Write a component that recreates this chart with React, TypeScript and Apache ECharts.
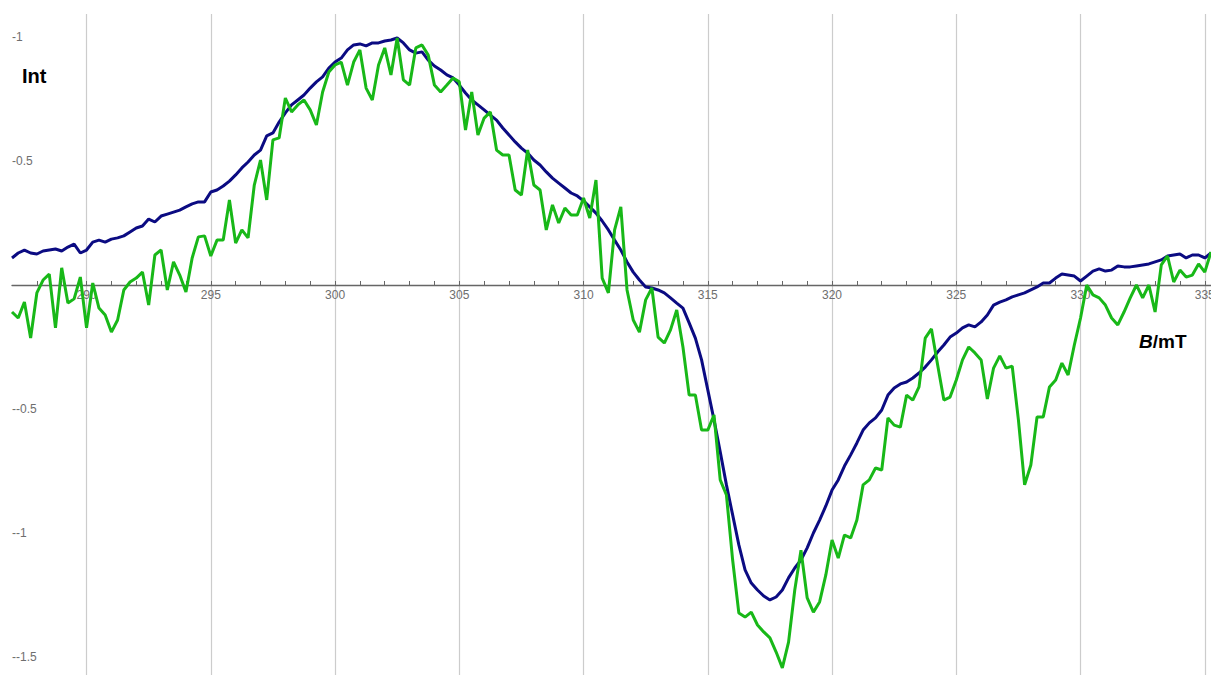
import React, { useEffect, useRef } from "react";
import * as echarts from "echarts";

// Magnetic field sampling (mT)
const B_START = 287;
const B_STEP = 0.25;
const fieldTickLabels = [290, 295, 300, 305, 310, 315, 320, 325, 330, 335];
const intensityTickLabels = [1, 0.5, -0.5, -1, -1.5];

// Simulated spectrum (navy)
const simulated = [
  0.109, 0.129, 0.141, 0.129, 0.125, 0.137, 0.141, 0.145, 0.137, 0.153,
  0.165, 0.129, 0.141, 0.173, 0.181, 0.173, 0.185, 0.19, 0.198, 0.214,
  0.23, 0.238, 0.266, 0.254, 0.278, 0.286, 0.294, 0.302, 0.315, 0.327,
  0.335, 0.335, 0.375, 0.383, 0.399, 0.419, 0.444, 0.472, 0.496, 0.524,
  0.544, 0.601, 0.613, 0.657, 0.694, 0.726, 0.746, 0.766, 0.794, 0.819,
  0.839, 0.875, 0.899, 0.915, 0.948, 0.968, 0.972, 0.964, 0.976, 0.976,
  0.984, 0.988, 0.996, 0.976, 0.948, 0.935, 0.94, 0.907, 0.883, 0.867,
  0.847, 0.835, 0.806, 0.774, 0.746, 0.726, 0.706, 0.685, 0.665, 0.633,
  0.605, 0.577, 0.552, 0.532, 0.504, 0.484, 0.456, 0.431, 0.411, 0.391,
  0.371, 0.359, 0.339, 0.315, 0.29, 0.258, 0.222, 0.181, 0.141, 0.093,
  0.052, 0.02, -0.008, -0.012, -0.02, -0.032, -0.052, -0.073, -0.093, -0.153,
  -0.214, -0.302, -0.423, -0.544, -0.673, -0.806, -0.927, -1.048, -1.149, -1.202,
  -1.23, -1.254, -1.27, -1.258, -1.23, -1.181, -1.141, -1.109, -1.06, -1.0,
  -0.948, -0.891, -0.827, -0.786, -0.73, -0.685, -0.637, -0.585, -0.556, -0.536,
  -0.504, -0.444, -0.415, -0.399, -0.391, -0.375, -0.355, -0.331, -0.302, -0.27,
  -0.242, -0.21, -0.194, -0.173, -0.161, -0.169, -0.149, -0.121, -0.081, -0.069,
  -0.06, -0.048, -0.04, -0.032, -0.02, -0.008, 0.008, 0.008, 0.028, 0.044,
  0.04, 0.036, 0.016, 0.036, 0.056, 0.065, 0.056, 0.06, 0.077, 0.073,
  0.073, 0.077, 0.081, 0.085, 0.093, 0.101, 0.117, 0.121, 0.125, 0.109,
  0.121, 0.121, 0.109, 0.129,
];

// Experimental spectrum (green)
const experimental = [
  -0.109, -0.133, -0.069, -0.214, -0.032, 0.02, 0.044, -0.173, 0.069, -0.073,
  -0.056, 0.032, -0.173, 0.008, -0.093, -0.121, -0.19, -0.141, -0.02, 0.012,
  0.028, 0.052, -0.081, 0.121, 0.141, -0.02, 0.093, 0.04, -0.028, 0.109,
  0.194, 0.198, 0.117, 0.181, 0.181, 0.343, 0.169, 0.222, 0.19, 0.403,
  0.504, 0.343, 0.585, 0.593, 0.754, 0.698, 0.726, 0.746, 0.706, 0.645,
  0.778, 0.859, 0.887, 0.899, 0.806, 0.899, 0.948, 0.794, 0.746, 0.887,
  0.956, 0.847, 0.996, 0.827, 0.806, 0.956, 0.968, 0.927, 0.806, 0.778,
  0.806, 0.835, 0.819, 0.625, 0.778, 0.605, 0.673, 0.698, 0.544, 0.524,
  0.524, 0.383, 0.363, 0.544, 0.403, 0.383, 0.222, 0.323, 0.25, 0.31,
  0.282, 0.282, 0.351, 0.27, 0.423, 0.028, -0.032, 0.222, 0.315, -0.02,
  -0.141, -0.19, -0.06, -0.012, -0.21, -0.234, -0.181, -0.101, -0.25, -0.444,
  -0.444, -0.585, -0.585, -0.524, -0.786, -0.847, -1.109, -1.323, -1.339, -1.319,
  -1.371, -1.399, -1.423, -1.48, -1.544, -1.44, -1.23, -1.069, -1.262, -1.319,
  -1.278, -1.169, -1.028, -1.101, -1.008, -1.02, -0.948, -0.806, -0.786, -0.738,
  -0.746, -0.536, -0.565, -0.573, -0.444, -0.464, -0.411, -0.214, -0.177, -0.323,
  -0.464, -0.452, -0.383, -0.302, -0.25, -0.274, -0.302, -0.46, -0.335, -0.286,
  -0.335, -0.327, -0.544, -0.806, -0.726, -0.532, -0.532, -0.411, -0.383, -0.315,
  -0.363, -0.242, -0.133, 0.0, -0.04, -0.052, -0.081, -0.133, -0.161, -0.109,
  -0.052, 0.0, -0.052, 0.0, -0.109, 0.081, 0.117, 0.012, 0.06, 0.032,
  0.04, 0.085, 0.052, 0.133,
];

const FONT = "'Liberation Sans', Arial, sans-serif";
const Y_MIN = -1.5726;
const Y_MAX = 1.0927;
const GRID_TOP = 14;
const GRID_BOTTOM = 0;
const CHART_H = 675;

export default function App() {
  const ref = useRef<HTMLDivElement>(null);

  useEffect(() => {
    if (!ref.current) return;
    const chart = echarts.init(ref.current, null, { renderer: "svg" });
    const field = simulated.map((_, i) => B_START + i * B_STEP);
    const bMax = B_START + (simulated.length - 1) * B_STEP;
    // place the field axis on the zero line of intensity
    const plotH = CHART_H - GRID_TOP - GRID_BOTTOM;
    const zeroFromBottom = (0 - Y_MIN) / (Y_MAX - Y_MIN) * plotH;

    chart.setOption({
      animation: false,
      backgroundColor: "#ffffff",
      grid: {
        left: 12,
        right: 0,
        top: GRID_TOP,
        bottom: GRID_BOTTOM,
        containLabel: false,
        outerBoundsMode: "none",
      },
      xAxis: [
        {
          type: "value",
          min: B_START,
          max: bMax,
          interval: 1,
          position: "bottom",
          offset: -zeroFromBottom,
          axisLine: { show: true, onZero: false, lineStyle: { color: "#666666", width: 1.3 } },
          axisTick: { show: true, inside: true, length: 4, lineStyle: { color: "#666666", width: 1 } },
          axisLabel: {
            show: true,
            margin: 4,
            color: "#6e6e6e",
            fontSize: 12,
            fontFamily: FONT,
            showMinLabel: false,
            showMaxLabel: false,
            formatter: (v: number) => (fieldTickLabels.includes(v) ? String(v) : ""),
          },
          splitLine: { show: false },
          z: 3,
        },
        {
          type: "value",
          min: B_START,
          max: bMax,
          position: "top",
          axisLine: { show: false, onZero: false },
          axisTick: { show: false, customValues: fieldTickLabels },
          axisLabel: { show: false },
          splitLine: { show: true, lineStyle: { color: "#cccccc", width: 1.2 } },
        },
      ],
      yAxis: {
        type: "value",
        min: Y_MIN,
        max: Y_MAX,
        axisLine: { show: false },
        axisTick: { show: false, customValues: intensityTickLabels },
        splitLine: { show: false },
        axisLabel: {
          show: true,
          inside: true,
          margin: 0,
          align: "left",
          color: "#6e6e6e",
          fontSize: 12,
          fontFamily: FONT,
          customValues: intensityTickLabels,
          formatter: (v: number) => "-" + String(v),
        },
      },
      graphic: [
        {
          type: "text",
          left: 22,
          top: 66,
          style: {
            text: "Int",
            fontSize: 20,
            fontWeight: "bold",
            fontFamily: FONT,
            fill: "#000000",
          },
          z: 10,
        },
        {
          type: "text",
          left: 1139,
          top: 332,
          style: {
            text: "{b|B}{n|/mT}",
            rich: {
              b: { fontSize: 19, fontWeight: "bold", fontStyle: "italic", fontFamily: FONT, fill: "#000000" },
              n: { fontSize: 19, fontWeight: "bold", fontFamily: FONT, fill: "#000000" },
            },
          },
          z: 10,
        },
      ],
      series: [
        {
          name: "simulated",
          type: "line",
          xAxisIndex: 0,
          data: field.map((b, i) => [b, simulated[i]]),
          showSymbol: false,
          lineStyle: { color: "#0b0b82", width: 3 },
          itemStyle: { color: "#0b0b82" },
          z: 4,
        },
        {
          name: "experimental",
          type: "line",
          xAxisIndex: 0,
          data: field.map((b, i) => [b, experimental[i]]),
          showSymbol: false,
          lineStyle: { color: "#18b818", width: 3 },
          itemStyle: { color: "#18b818" },
          z: 5,
        },
      ],
    });

    return () => chart.dispose();
  }, []);

  return (
    <div
      ref={ref}
      style={{ position: "fixed", left: 0, top: 0, width: 1211, height: 675, background: "#ffffff" }}
    />
  );
}
